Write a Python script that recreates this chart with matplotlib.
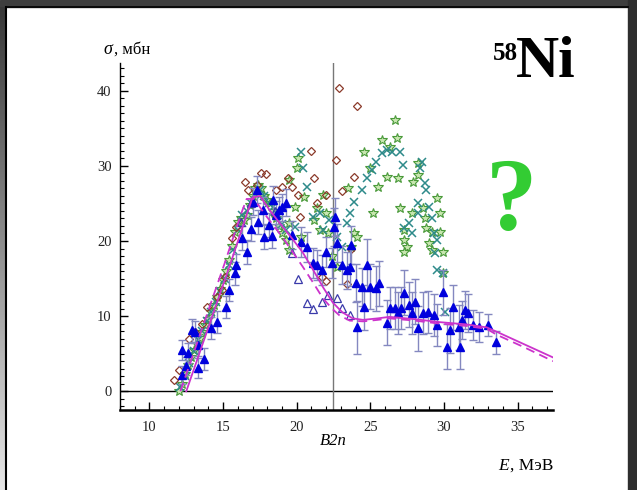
import numpy as np
import matplotlib
matplotlib.use("Agg")
import matplotlib.pyplot as plt
from matplotlib.ticker import MultipleLocator
from matplotlib.patches import Rectangle

plt.rcParams['font.family'] = ['Liberation Serif', 'DejaVu Serif']

# --- data (E in MeV, sigma in mb) ---
b2n = 22.45

# brown open diamonds
dia_E = [11.7, 12.0, 12.7, 13.06, 13.6, 13.9, 14.6, 14.9, 15.1, 15.6, 15.9, 16.5, 16.7,
         17.3, 17.6, 17.9, 18.6, 19.0, 19.4, 19.7, 20.1, 20.2, 20.95, 21.2, 21.4, 22.0,
         22.65, 22.9, 23.1, 23.9, 24.1, 21.7, 22.0, 23.4, 23.7]
dia_S = [1.5, 2.8, 7.0, 7.9, 9.0, 11.2, 12.5, 13.5, 15.2, 20.4, 21.9, 27.9, 26.8,
         27.5, 29.0, 28.9, 26.8, 27.2, 28.4, 27.2, 26.1, 23.2, 32.0, 28.4, 25.0, 26.1,
         30.8, 40.4, 26.7, 28.5, 38.0, 15.2, 14.7, 14.3, 18.9]

# green open stars
star_E = [12.0, 12.2, 12.4, 12.6, 12.8, 13.0, 13.2, 13.4, 13.6, 13.8, 14.0, 14.2, 14.4,
          14.6, 14.8, 15.0, 15.2, 15.4, 15.6, 15.8, 16.0, 16.2, 16.4, 16.6, 16.8, 17.0,
          17.2, 17.4, 17.6, 17.8, 18.0, 18.2, 18.4, 18.6, 18.8, 19.0, 19.3, 19.5,
          20.1, 20.0, 19.5, 20.5, 19.9, 19.5, 20.3, 21.4, 21.8, 22.0, 22.1, 21.6, 22.7,
          23.5, 23.9, 23.7, 24.1, 24.6, 25.0, 25.5, 26.1, 25.2, 25.8, 26.7, 26.8, 26.3,
          28.2, 26.9, 28.2, 27.9, 29.5, 27.0, 27.8, 28.6, 28.7, 29.7, 27.3, 27.3, 27.5,
          27.3, 28.8, 29.2, 29.7, 29.0, 29.2, 29.9, 29.9, 21.2, 22.4]
star_S = [0.0, 1.0, 2.3, 3.5, 4.6, 5.5, 6.3, 7.1, 7.9, 8.8, 9.6, 10.6, 11.5,
          12.5, 13.6, 14.8, 16.0, 17.5, 19.3, 21.2, 22.5, 23.0, 22.8, 23.5, 24.8, 26.0,
          27.0, 27.5, 27.0, 26.0, 25.5, 25.0, 24.0, 23.0, 22.0, 21.0, 20.1, 18.8,
          31.1, 29.7, 28.1, 25.9, 24.5, 22.4, 20.5, 24.4, 26.1, 23.7, 21.1, 21.5, 16.5,
          27.1, 21.1, 19.2, 20.5, 31.9, 29.7, 27.2, 28.5, 23.7, 33.5, 36.1, 33.7, 32.5,
          30.4, 28.4, 28.8, 27.9, 25.7, 24.4, 23.7, 24.4, 23.1, 23.7, 21.5, 20.1, 19.2,
          18.5, 21.7, 21.2, 21.2, 19.7, 18.8, 18.5, 15.7, 22.8, 18.0]

# teal crosses
x_E = [12.1, 12.4, 12.7, 13.0, 13.3, 13.6, 13.9, 14.2, 14.5, 14.8, 15.1, 15.4, 15.7,
       16.0, 16.3, 16.6, 16.9, 17.2, 17.5, 17.8, 18.1, 18.4, 18.7, 19.0, 19.3,
       20.3, 20.4, 20.7, 19.9, 21.1, 21.6, 21.8, 22.2, 22.7, 23.1, 23.4, 23.6, 23.9,
       24.4, 24.8, 25.1, 25.4, 25.8, 26.1, 26.5, 27.0, 27.2, 28.5, 28.4, 28.7, 28.8,
       28.2, 29.0, 28.2, 29.2, 27.6, 27.3, 27.8, 29.3, 29.5, 29.4, 29.5, 29.9, 30.1]
x_S = [0.5, 2.0, 3.8, 5.3, 6.8, 8.0, 9.3, 10.6, 11.9, 13.4, 15.0, 16.8, 18.8,
       21.5, 23.5, 24.0, 25.0, 26.2, 26.8, 26.0, 25.0, 24.5, 23.5, 22.3, 21.5,
       31.9, 29.7, 27.2, 21.9, 23.2, 23.7, 21.5, 22.8, 20.5, 19.2, 22.4, 23.7, 25.2,
       26.8, 28.4, 29.5, 30.5, 31.7, 32.1, 31.9, 31.9, 30.1, 30.5, 29.7, 27.7, 26.8,
       25.1, 24.5, 23.7, 23.1, 22.4, 21.7, 21.1, 21.1, 20.1, 18.4, 16.1, 15.7, 10.5]

# blue filled triangles with error bars
tri_E = [12.2, 12.24, 12.5, 12.6, 12.9, 13.1, 13.3, 13.3, 13.7, 14.2, 14.6, 15.2, 15.4,
         15.8, 15.9, 16.3, 16.6, 16.9, 17.0, 17.3, 17.4, 17.7, 17.8, 18.1, 18.3, 18.4,
         18.6, 18.8, 19.0, 19.3, 19.7, 20.3, 20.7, 21.1, 21.4, 21.7, 22.0, 22.4, 22.5,
         22.6, 22.7, 23.1, 23.4, 23.6, 23.7, 24.0, 24.4, 24.6, 24.8, 25.0, 24.1, 25.4,
         25.6, 26.1, 26.3, 26.7, 26.9, 27.1, 27.3, 27.6, 27.8, 28.0, 28.2, 28.6, 28.9,
         29.3, 29.5, 29.9, 30.2, 30.4, 30.6, 31.0, 31.1, 31.2, 31.4, 31.6, 32.0, 32.4,
         33.0, 33.5]
tri_S = [2.1, 5.5, 3.3, 5.1, 8.1, 7.9, 6.1, 3.1, 4.3, 8.4, 9.2, 11.2, 13.5,
         15.7, 16.8, 20.4, 18.5, 21.6, 25.2, 26.8, 22.5, 24.1, 20.5, 22.1, 20.7, 25.5,
         23.5, 24.1, 24.5, 25.1, 20.8, 19.9, 19.2, 17.1, 16.8, 16.1, 18.5, 17.1, 21.9,
         23.2, 19.7, 16.8, 16.1, 16.5, 19.5, 14.4, 13.9, 11.2, 16.8, 13.9, 8.5, 13.7,
         14.4, 9.1, 11.1, 11.1, 10.4, 11.1, 13.1, 11.5, 10.4, 11.9, 8.4, 10.4, 10.5,
         10.1, 8.8, 13.2, 5.9, 8.1, 11.2, 8.5, 5.9, 9.5, 10.8, 10.4, 8.8, 8.5,
         8.8, 6.5]
tri_err = [1.2, 1.3, 1.2, 1.3, 1.5, 1.5, 1.4, 1.3, 1.5, 1.5, 1.5, 1.5, 1.5,
           1.5, 1.5, 1.6, 1.6, 1.6, 1.8, 1.8, 1.6, 1.8, 1.6, 1.6, 1.6, 1.8,
           1.8, 1.8, 1.8, 1.8, 1.8, 2.0, 2.0, 2.0, 2.0, 2.0, 2.0, 2.0, 2.5,
           2.5, 2.5, 2.5, 2.5, 2.5, 2.5, 2.5, 2.5, 3.0, 3.5, 3.0, 3.5, 3.0,
           3.0, 3.0, 2.8, 2.8, 2.8, 2.8, 3.0, 3.0, 2.8, 3.0, 3.0, 2.8, 2.8,
           2.8, 2.8, 3.0, 3.0, 3.0, 3.0, 3.0, 3.0, 2.5, 2.5, 2.5, 2.0, 2.0,
           1.5, 1.5]

# blue open triangles
otri_E = [16.2, 16.9, 18.5, 19.7, 20.1, 20.7, 21.1, 21.7, 22.1, 22.7, 23.1, 23.6]
otri_S = [22.5, 25.0, 24.0, 18.4, 14.9, 11.7, 10.9, 11.9, 12.8, 12.4, 11.1, 10.1]

# magenta calculations
sol_E = [12.5, 14.0, 15.5, 16.6, 17.0, 17.5, 18.2, 19.0, 19.7, 20.4, 21.1, 21.8, 22.45,
         23.1, 23.8, 24.5, 25.5, 26.3, 28.0, 29.7, 31.5, 32.9, 33.6, 35.5, 37.4]
sol_S = [0.0, 8.5, 17.0, 23.5, 25.8, 26.0, 24.0, 22.0, 20.3, 18.5, 16.2, 13.8, 11.8,
         10.5, 9.7, 9.5, 9.7, 9.9, 9.6, 9.2, 8.9, 8.5, 7.9, 6.2, 4.5]
dash_E = [12.1, 13.6, 15.1, 16.2, 16.6, 17.1, 17.9, 19.0, 19.7, 20.4, 21.1, 21.8, 22.45,
          22.9, 23.6, 24.5, 25.5, 26.3, 28.0, 29.7, 31.5, 32.9, 33.6, 35.5, 37.4]
dash_S = [0.0, 8.5, 17.0, 23.5, 25.6, 25.6, 23.4, 20.6, 18.6, 16.6, 14.5, 12.3, 10.9,
          10.1, 9.4, 9.3, 9.5, 9.7, 9.4, 9.0, 8.7, 8.3, 7.5, 5.8, 4.0]

xticks = [10, 15, 20, 25, 30, 35]
yticks = [0, 10, 20, 30, 40]

fig = plt.figure(figsize=(6.37, 4.90), dpi=100)
fig.patch.set_facecolor('white')

# slide frame
fig.add_artist(Rectangle((0, 1 - 7 / 490), 1, 7 / 490, transform=fig.transFigure,
                         color='#3e3e3e', zorder=0))
fig.add_artist(Rectangle((628 / 637, 0), 9 / 637, 1, transform=fig.transFigure,
                         color='#2e2e2e', zorder=0))
gax = fig.add_axes([0, 0, 6 / 637, 1 - 7 / 490])
gax.imshow(np.linspace(0.22, 0.9, 200).reshape(-1, 1), cmap='gray', vmin=0, vmax=1,
           aspect='auto')
gax.axis('off')
fig.add_artist(plt.Line2D([6.5 / 637, 6.5 / 637], [0, 1 - 7 / 490], transform=fig.transFigure,
                          color='black', lw=1.5))
fig.add_artist(plt.Line2D([6.5 / 637, 628 / 637], [1 - 7.5 / 490, 1 - 7.5 / 490],
                          transform=fig.transFigure, color='black', lw=1.2))

ax = fig.add_axes([120 / 637, 80 / 490, 433 / 637, 347 / 490])
ax.set_xlim(8.0, 37.4)
ax.set_ylim(-2.5, 43.7)

ax.axhline(0, color='black', lw=1.0, zorder=1)
ax.axvline(b2n, color='#777777', lw=1.0, zorder=1)

ax.plot(star_E, star_S, linestyle='none', marker='*', ms=7, mfc='#c8e6b0',
        mec='#4a9a3a', mew=0.8, zorder=3)
ax.plot(x_E, x_S, linestyle='none', marker='x', ms=6, color='#2e8a8a', mew=1.1, zorder=3)
ax.plot(dia_E, dia_S, linestyle='none', marker='D', ms=4.5, mfc='none',
        mec='#8b3a2a', mew=0.9, zorder=3)
ax.errorbar(tri_E, tri_S, yerr=tri_err, fmt='^', ms=6, color='#0000dd',
            ecolor='#8488c0', elinewidth=1.0, capsize=3, capthick=1.0, zorder=4)
ax.plot(otri_E, otri_S, linestyle='none', marker='^', ms=6, mfc='none',
        mec='#3a3aaa', mew=0.9, zorder=4)
ax.plot(sol_E, sol_S, color='#cc33cc', lw=1.3, zorder=5)
ax.plot(dash_E, dash_S, color='#cc33cc', lw=1.3, ls=(0, (5, 3)), zorder=5)

for s in ['top', 'right']:
    ax.spines[s].set_visible(False)
ax.spines['left'].set_linewidth(1.0)
ax.spines['bottom'].set_linewidth(1.8)

ax.set_xticks(xticks)
ax.set_yticks(yticks)
ax.xaxis.set_minor_locator(MultipleLocator(1))
ax.yaxis.set_minor_locator(MultipleLocator(1))
ax.tick_params(which='major', direction='in', length=6, width=1.0, labelsize=10.5,
               colors='black')
ax.tick_params(which='minor', direction='in', length=3, width=0.8)
ax.tick_params(axis='x', pad=8)
ax.tick_params(axis='y', pad=6)
for lab in ax.get_xticklabels() + ax.get_yticklabels():
    lab.set_color('#222222')

# labels
fig.text(103 / 637, 1 - 50 / 490, 'σ', fontsize=13, style='italic', va='center')
fig.text(114 / 637, 1 - 50 / 490, ', мбн', fontsize=12, va='center')
ax.text(b2n, -0.065, 'B2n', transform=ax.get_xaxis_transform(), fontsize=12,
        style='italic', ha='center', va='top')
fig.text(498 / 637, 1 - 466 / 490, 'E', fontsize=12.5, style='italic', ha='left',
         va='center')
fig.text(553 / 637, 1 - 466 / 490, ', МэВ', fontsize=12.5, ha='right', va='center')
fig.text(518 / 637, 1 - 53 / 490, '58', fontsize=18, fontweight='bold', ha='right',
         va='center')
fig.text(516 / 637, 1 - 63 / 490, 'Ni', fontsize=43, fontweight='bold', ha='left',
         va='center')
fig.text(512 / 637, 1 - 205 / 490, '?', fontsize=74, fontweight='bold', color='#33cc33',
         ha='center', va='center')

fig.savefig('out.png', dpi=100)
